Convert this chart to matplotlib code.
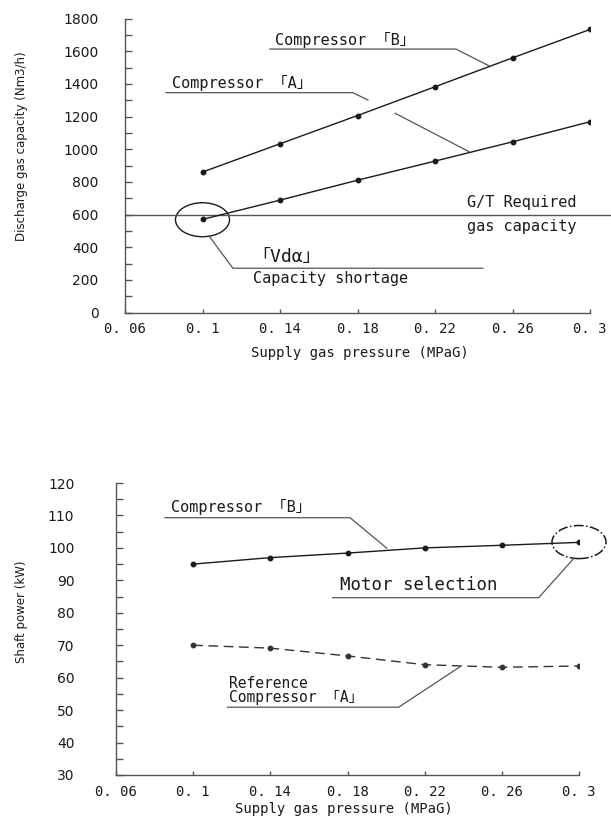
import numpy as np
import matplotlib
matplotlib.use("Agg")
import matplotlib.pyplot as plt
from matplotlib.patches import Ellipse
from matplotlib.ticker import MultipleLocator

# data
pressure = [0.1, 0.14, 0.18, 0.22, 0.26, 0.3]
xticks = [0.06, 0.1, 0.14, 0.18, 0.22, 0.26, 0.3]
xtick_labels = ["0. 06", "0. 1", "0. 14", "0. 18", "0. 22", "0. 26", "0. 3"]

cap_b = [860, 1033, 1206, 1382, 1559, 1733]
cap_a = [570, 688, 810, 927, 1045, 1168]
required_cap = 600

power_b = [95, 97, 98.4, 100, 100.8, 101.7]
power_ref_a = [70, 69.1, 66.7, 64, 63.2, 63.6]

MONO = ["DejaVu Sans Mono", "Noto Sans CJK JP"]
INK = "#1a1a1a"
GREY = "#555555"

fig = plt.figure(figsize=(6.11, 8.18), dpi=100)


def style_axes(ax, ymin, ymax, ymajor, yminor, ypad):
    ax.set_xlim(0.06, 0.3)
    ax.set_ylim(ymin, ymax)
    for s in ("top", "right"):
        ax.spines[s].set_visible(False)
    for s in ("left", "bottom"):
        ax.spines[s].set_color(GREY)
        ax.spines[s].set_linewidth(1.0)
    ax.set_xticks(xticks)
    ax.set_xticklabels(xtick_labels, fontfamily=MONO, fontsize=10, color=INK)
    ax.yaxis.set_major_locator(MultipleLocator(ymajor))
    ax.yaxis.set_minor_locator(MultipleLocator(yminor))
    ax.tick_params(axis="y", which="both", direction="in", length=5,
                   width=1.0, color=GREY, labelsize=10, labelcolor=INK, pad=ypad)
    ax.tick_params(axis="x", direction="in", length=3, width=1.0, color=GREY, pad=7)


def leader(ax, xs, ys, ls="-"):
    ax.plot(xs, ys, color=GREY, lw=0.9, ls=ls, clip_on=False)


# ---- top chart: discharge gas capacity ----
ax1 = fig.add_axes([125 / 611, 1 - 312.5 / 818, 465 / 611, 294 / 818])
style_axes(ax1, 0, 1800, 200, 100, 19)

ax1.plot([0.06, 0.311], [required_cap, required_cap], color=GREY, lw=1.0, clip_on=False)
ax1.plot(pressure, cap_b, color=INK, lw=1.0, marker="o", ms=3.2)
ax1.plot(pressure, cap_a, color=INK, lw=1.0, marker="o", ms=3.2)

ax1.text(0.1374, 1622, "Compressor 「B」", fontfamily=MONO, fontsize=11, va="bottom", color=INK)
leader(ax1, [0.1348, 0.2308, 0.2479], [1613, 1613, 1510])

ax1.text(0.0843, 1356, "Compressor 「A」", fontfamily=MONO, fontsize=11, va="bottom", color=INK)
leader(ax1, [0.0812, 0.1775, 0.1854], [1346, 1346, 1301])
leader(ax1, [0.1994, 0.2375], [1220, 985])

ax1.text(0.2365, 625, "G/T Required", fontfamily=MONO, fontsize=11, va="bottom", color=INK, clip_on=False)
ax1.text(0.2365, 575, "gas capacity", fontfamily=MONO, fontsize=11, va="top", color=INK, clip_on=False)

ax1.add_patch(Ellipse((0.1, 568), 0.0279, 208, fill=False, ec=INK, lw=1.0))
leader(ax1, [0.1034, 0.1157, 0.2447], [468, 271, 271])
ax1.text(0.1255, 282, "「Vdα」", fontfamily=MONO, fontsize=13, va="bottom", color=INK)
ax1.text(0.126, 255, "Capacity shortage", fontfamily=MONO, fontsize=11, va="top", color=INK)

fig.text(22 / 611, 1 - 146.5 / 818, "Discharge gas capacity (Nm3/h)", rotation=90,
         ha="center", va="center", fontsize=8.5, color=INK)
fig.text(360 / 611, 1 - 353 / 818, "Supply gas pressure (MPaG)", ha="center", va="center",
         fontfamily=MONO, fontsize=10, color=INK)

# ---- bottom chart: shaft power ----
ax2 = fig.add_axes([116 / 611, 1 - 775 / 818, 463 / 611, 292 / 818])
style_axes(ax2, 30, 120, 10, 5, 30)

ax2.plot(pressure, power_b, color=INK, lw=1.0, marker="o", ms=3.2)
ax2.plot(pressure, power_ref_a, color="#333333", lw=1.0, ls=(0, (7, 4)), marker="o", ms=3.2)

ax2.text(0.0885, 110.2, "Compressor 「B」", fontfamily=MONO, fontsize=11, va="bottom", color=INK)
leader(ax2, [0.0854, 0.1813, 0.2004], [109.3, 109.3, 99.9])

ax2.add_patch(Ellipse((0.3, 101.8), 0.028, 10.2, fill=False, ec=INK, lw=1.1, ls="-.", clip_on=False))
ax2.text(0.1763, 85.8, "Motor selection", fontfamily=MONO, fontsize=12.5, va="bottom", color=INK)
leader(ax2, [0.1723, 0.2791, 0.2972], [84.65, 84.65, 96.7])

ax2.text(0.1188, 51.6, "Reference\nCompressor 「A」", fontfamily=MONO, fontsize=10.5,
         va="bottom", linespacing=0.95, color=INK)
leader(ax2, [0.1178, 0.2065, 0.2387], [50.9, 50.9, 63.5])

fig.text(22 / 611, 1 - 612 / 818, "Shaft power (kW)", rotation=90,
         ha="center", va="center", fontsize=8.5, color=INK)
fig.text(344 / 611, 1 - 809 / 818, "Supply gas pressure (MPaG)", ha="center", va="center",
         fontfamily=MONO, fontsize=10, color=INK)

fig.savefig("out.png", dpi=100)
